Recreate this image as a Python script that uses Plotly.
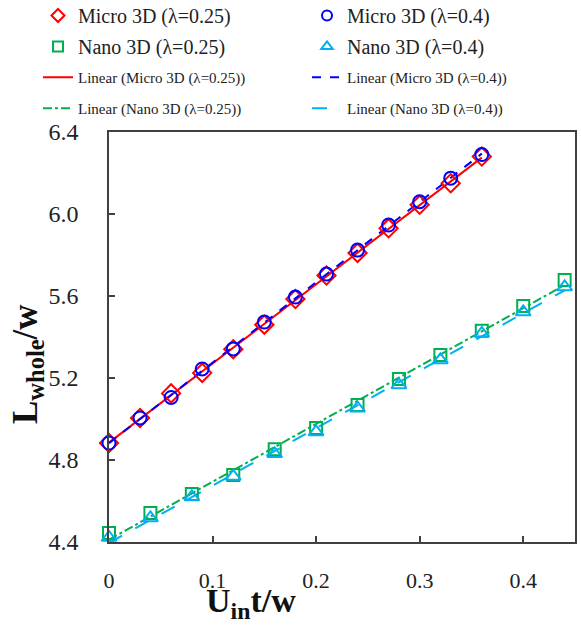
import numpy as np
import plotly.graph_objects as go

# ---- data ----
x_micro = [0, 0.03, 0.06, 0.09, 0.12, 0.15, 0.18, 0.21, 0.24, 0.27, 0.30, 0.33, 0.36]
micro_025 = [4.883, 5.005, 5.125, 5.225, 5.34, 5.46, 5.585, 5.70, 5.81, 5.93, 6.045, 6.15, 6.28]
micro_04 = [4.883, 5.005, 5.105, 5.244, 5.342, 5.473, 5.595, 5.707, 5.824, 5.946, 6.06, 6.175, 6.29]

x_nano = [0, 0.04, 0.08, 0.12, 0.16, 0.20, 0.24, 0.28, 0.32, 0.36, 0.40, 0.44]
nano_025 = [4.444, 4.541, 4.634, 4.727, 4.853, 4.956, 5.068, 5.195, 5.312, 5.43, 5.551, 5.678]
nano_04 = [4.422, 4.517, 4.62, 4.72, 4.83, 4.937, 5.053, 5.166, 5.288, 5.418, 5.522, 5.644]

x_ticks = [0, 0.1, 0.2, 0.3, 0.4]
x_tick_text = ["0", "0.1", "0.2", "0.3", "0.4"]
y_ticks = [4.4, 4.8, 5.2, 5.6, 6.0, 6.4]
y_tick_text = ["4.4", "4.8", "5.2", "5.6", "6.0", "6.4"]

RED, BLUE, GREEN, LBLUE = "#FF0000", "#0000FF", "#00B050", "#00B0F0"
FONT = "Liberation Serif, Times New Roman, serif"

# plot area in pixels
L, R, T, B = 109, 575, 132, 542
W, H = R - L, B - T


def px_x(p):
    return (p - L) / W


def px_y(p):
    return (B - p) / H


def fit(x, y):
    k, b = np.polyfit(x, y, 1)
    xs = np.array([min(x), max(x)])
    return xs, k * xs + b


fig = go.Figure()

# linear trend lines (drawn first, under markers)
line_specs = [
    (x_micro, micro_025, "Linear (Micro 3D (λ=0.25))", RED, "solid", "legend5"),
    (x_micro, micro_04, "Linear (Micro 3D (λ=0.4))", BLUE, "dash", "legend6"),
    (x_nano, nano_025, "Linear (Nano 3D (λ=0.25))", GREEN, "dashdot", "legend7"),
    (x_nano, nano_04, "Linear (Nano 3D (λ=0.4))", LBLUE, "longdash", "legend8"),
]
for xs, ys, name, color, dash, lg in line_specs:
    fx, fy = fit(xs, ys)
    fig.add_trace(go.Scatter(x=fx, y=fy, mode="lines", name=name,
                             line=dict(color=color, width=2, dash=dash),
                             legend=lg, cliponaxis=False))

marker_specs = [
    (x_micro, micro_025, "Micro 3D (λ=0.25)", RED, "diamond-open", 14, "legend"),
    (x_micro, micro_04, "Micro 3D (λ=0.4)", BLUE, "circle-open", 13, "legend2"),
    (x_nano, nano_025, "Nano 3D (λ=0.25)", GREEN, "square-open", 12, "legend3"),
    (x_nano, nano_04, "Nano 3D (λ=0.4)", LBLUE, "triangle-up-open", 13, "legend4"),
]
for xs, ys, name, color, sym, size, lg in marker_specs:
    fig.add_trace(go.Scatter(x=xs, y=ys, mode="markers", name=name,
                             marker=dict(symbol=sym, size=size, color=color,
                                         line=dict(width=2, color=color)),
                             legend=lg, showlegend=False, cliponaxis=False))
    # legend entry with the smaller symbol used in the reference legend
    fig.add_trace(go.Scatter(x=[None], y=[None], mode="markers", name=name,
                             marker=dict(symbol=sym, size=10, color=color,
                                         line=dict(width=2, color=color)),
                             legend=lg, showlegend=True))

# legend placements: (legend id, origin x px, row centre px, font size)
col1, col2 = 38, 307
legend_pos = {
    "legend": (col1, 14, 20), "legend2": (col2, 14, 20),
    "legend3": (col1, 45, 20), "legend4": (col2, 45, 20),
    "legend5": (col1, 77, 15), "legend6": (col2, 77, 15),
    "legend7": (col1, 108, 15), "legend8": (col2, 108, 15),
}
legends = {}
for key, (ox, cy, fs) in legend_pos.items():
    top = cy - (18 if fs >= 20 else 16)
    legends[key] = dict(orientation="v", xref="paper", yref="paper",
                        x=px_x(ox), y=px_y(top), xanchor="left", yanchor="top",
                        font=dict(family=FONT, size=fs, color="#222"),
                        bgcolor="rgba(0,0,0,0)")

axis_common = dict(showgrid=False, zeroline=False, showline=True, linecolor="#404040",
                   linewidth=1.5, mirror=True, ticks="inside", ticklen=6,
                   tickcolor="#404040", tickwidth=1.5)

fig.update_layout(
    width=581, height=626,
    margin=dict(l=L, r=581 - R, t=T, b=626 - B, autoexpand=False),
    paper_bgcolor="white", plot_bgcolor="white",
    showlegend=True,
    xaxis=dict(range=[0, 0.45], tickvals=x_ticks, ticktext=x_tick_text,
               ticklabelstandoff=18,
               tickfont=dict(family=FONT, size=22, color="#222"), **axis_common),
    yaxis=dict(range=[4.4, 6.4], tickvals=y_ticks, ticktext=y_tick_text,
               ticklabelstandoff=24,
               tickfont=dict(family=FONT, size=24, color="#222"), **axis_common),
    annotations=[
        dict(text="<b>U<sub>in</sub>t/w</b>", xref="paper", yref="paper",
             x=px_x(251), y=px_y(580), xanchor="center", yanchor="top",
             showarrow=False, font=dict(family=FONT, size=34, color="#111")),
        dict(text="<b>L<sub>whole</sub>/w</b>", xref="paper", yref="paper",
             x=px_x(27), y=px_y(364), xanchor="center", yanchor="middle",
             textangle=-90, showarrow=False,
             font=dict(family=FONT, size=35, color="#111")),
    ],
    **legends,
)

fig.write_html("out.html")
